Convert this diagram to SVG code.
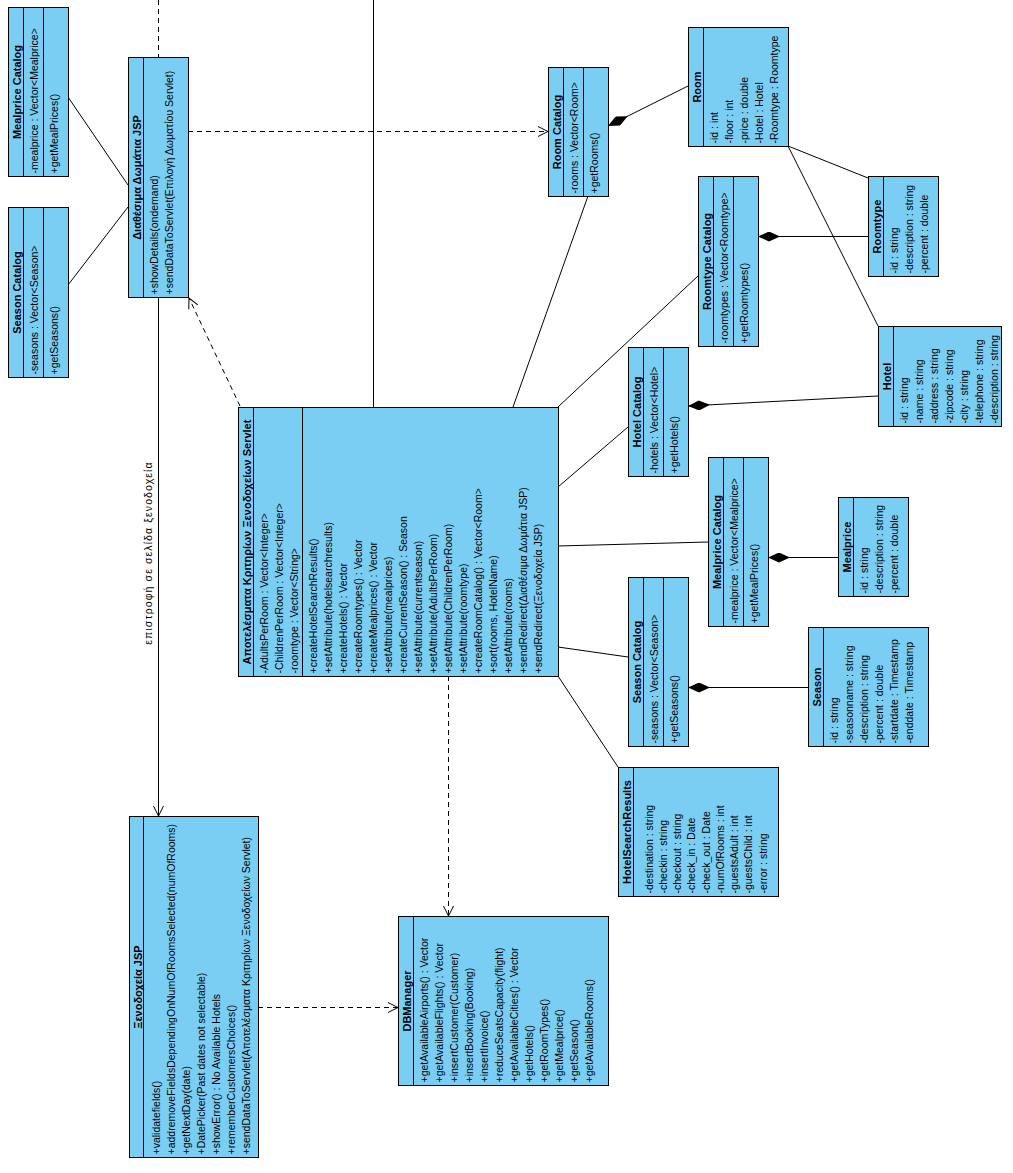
<svg xmlns="http://www.w3.org/2000/svg" width="1013" height="1173" viewBox="0 0 1013 1173">
<style>
.box{fill:#7acef4;stroke:#000;stroke-width:1}
.dv{stroke:#000;stroke-width:1}
.t{font-family:"Liberation Sans",Arial,sans-serif;font-size:11px;font-weight:bold;text-anchor:middle;fill:#000}
.m{font-family:"Liberation Sans",Arial,sans-serif;font-size:10.5px;fill:#000}
.lbl{font-family:"Liberation Sans",Arial,sans-serif;font-size:10.5px;letter-spacing:1.1px;fill:#000;text-anchor:middle}
.c{stroke:#000;fill:none;stroke-width:1}
.d{stroke-dasharray:5,4}
.arr{marker-end:url(#open)}
.dia{marker-start:url(#diamond)}
</style>
<defs>
<marker id="open" viewBox="0 0 12 12" refX="11" refY="6" markerWidth="12" markerHeight="12" markerUnits="userSpaceOnUse" orient="auto"><path d="M1,1 L11,6 L1,11" fill="none" stroke="#000" stroke-width="1" stroke-dasharray="none"/></marker>
<marker id="diamond" viewBox="0 0 22 10" refX="0" refY="5" markerWidth="22" markerHeight="10" markerUnits="userSpaceOnUse" orient="auto"><path d="M0,5 L11,0 L22,5 L11,10 Z" fill="#000"/></marker>
</defs>
<rect width="1013" height="1173" fill="#fff"/>
<g id="connectors">
<path class="c" d="M68,97 L128,185"/>
<path class="c" d="M68,285 L128,207"/>
<path class="c d" d="M158.5,0 L158.5,57"/>
<path class="c" d="M373.5,0 L373.5,407"/>
<path class="c d arr" d="M188,131.5 L548,131.5"/>
<path class="c d arr" d="M240,406 L189,298"/>
<path class="c arr" d="M158.5,297 L158.5,816"/>
<path class="c dia" d="M608,126 L688,86"/>
<path class="c" d="M788,146 L868,178"/>
<path class="c" d="M788,146 L878,326"/>
<path class="c dia" d="M758,236.5 L868,236.5"/>
<path class="c dia" d="M688,406 L878,396"/>
<path class="c dia" d="M768,557.5 L838,557.5"/>
<path class="c dia" d="M688,687.5 L808,687.5"/>
<path class="c" d="M513,407 L588,196"/>
<path class="c" d="M558,407 L698,276"/>
<path class="c" d="M558,487 L628,427"/>
<path class="c" d="M558,546 L708,542"/>
<path class="c" d="M558,647 L628,657"/>
<path class="c" d="M558,676 L618,767"/>
<path class="c d arr" d="M448.5,676 L448.5,916"/>
<path class="c d arr" d="M258,1007.5 L398,1007.5"/>
<text class="lbl" transform="translate(152,553) rotate(-90)">επιστροφή σε σελίδα ξενοδοχεία</text>
</g>
<g id="mealpriceCatalog1" transform="translate(8.5,176.5) rotate(-90)">
<rect class="box" width="169" height="60"/>
<line class="dv" x1="0" y1="15" x2="169" y2="15"/><line class="dv" x1="0" y1="35" x2="169" y2="35"/>
<text class="t" x="84.5" y="12">Mealprice Catalog</text>
<text class="m" x="3" y="29">-mealprice : Vector&lt;Mealprice&gt;</text>
<text class="m" x="3" y="49">+getMealPrices()</text>
</g>
<g id="seasonCatalog1" transform="translate(8.5,377.5) rotate(-90)">
<rect class="box" width="170" height="60"/>
<line class="dv" x1="0" y1="15" x2="170" y2="15"/><line class="dv" x1="0" y1="35" x2="170" y2="35"/>
<text class="t" x="85" y="12">Season Catalog</text>
<text class="m" x="3" y="29">-seasons : Vector&lt;Season&gt;</text>
<text class="m" x="3" y="49">+getSeasons()</text>
</g>
<g id="diathesimaJSP" transform="translate(128.5,297.5) rotate(-90)">
<rect class="box" width="240" height="60"/>
<line class="dv" x1="0" y1="15" x2="240" y2="15"/>
<text class="t" x="120" y="12">Διαθέσιμα Δωμάτια JSP</text>
<text class="m" x="3" y="29">+showDetails(ondemand)</text>
<text class="m" x="3" y="44">+sendDataToServlet(Επιλογή Δωματίου Servlet)</text>
</g>
<g id="roomCatalog" transform="translate(548.5,196.5) rotate(-90)">
<rect class="box" width="129" height="60"/>
<line class="dv" x1="0" y1="15" x2="129" y2="15"/><line class="dv" x1="0" y1="35" x2="129" y2="35"/>
<text class="t" x="64.5" y="12">Room Catalog</text>
<text class="m" x="3" y="29">-rooms : Vector&lt;Room&gt;</text>
<text class="m" x="3" y="49">+getRooms()</text>
</g>
<g id="room" transform="translate(688.5,146.5) rotate(-90)">
<rect class="box" width="119" height="100"/>
<line class="dv" x1="0" y1="15" x2="119" y2="15"/>
<text class="t" x="59.5" y="12">Room</text>
<text class="m" x="3" y="29">-id : int</text>
<text class="m" x="3" y="44">-floor : int</text>
<text class="m" x="3" y="59">-price : double</text>
<text class="m" x="3" y="74">-Hotel : Hotel</text>
<text class="m" x="3" y="89">-Roomtype : Roomtype</text>
</g>
<g id="roomtypeCatalog" transform="translate(698.5,346.5) rotate(-90)">
<rect class="box" width="170" height="60"/>
<line class="dv" x1="0" y1="15" x2="170" y2="15"/><line class="dv" x1="0" y1="35" x2="170" y2="35"/>
<text class="t" x="85" y="12">Roomtype Catalog</text>
<text class="m" x="3" y="29">-roomtypes : Vector&lt;Roomtype&gt;</text>
<text class="m" x="3" y="49">+getRoomtypes()</text>
</g>
<g id="roomtype" transform="translate(868.5,276.5) rotate(-90)">
<rect class="box" width="100" height="70"/>
<line class="dv" x1="0" y1="15" x2="100" y2="15"/>
<text class="t" x="50" y="12">Roomtype</text>
<text class="m" x="3" y="29">-id : string</text>
<text class="m" x="3" y="44">-description : string</text>
<text class="m" x="3" y="59">-percent : double</text>
</g>
<g id="hotel" transform="translate(878.5,426.5) rotate(-90)">
<rect class="box" width="100" height="123"/>
<line class="dv" x1="0" y1="15" x2="100" y2="15"/>
<text class="t" x="50" y="12">Hotel</text>
<text class="m" x="3" y="29">-id : string</text>
<text class="m" x="3" y="44">-name : string</text>
<text class="m" x="3" y="59">-address : string</text>
<text class="m" x="3" y="74">-zipcode : string</text>
<text class="m" x="3" y="89">-city : string</text>
<text class="m" x="3" y="104">-telephone : string</text>
<text class="m" x="3" y="119">-description : string</text>
</g>
<g id="hotelCatalog" transform="translate(628.5,476.5) rotate(-90)">
<rect class="box" width="129" height="60"/>
<line class="dv" x1="0" y1="15" x2="129" y2="15"/><line class="dv" x1="0" y1="35" x2="129" y2="35"/>
<text class="t" x="64.5" y="12">Hotel Catalog</text>
<text class="m" x="3" y="29">-hotels : Vector&lt;Hotel&gt;</text>
<text class="m" x="3" y="49">+getHotels()</text>
</g>
<g id="mealpriceCatalog2" transform="translate(708.5,626.5) rotate(-90)">
<rect class="box" width="169" height="60"/>
<line class="dv" x1="0" y1="15" x2="169" y2="15"/><line class="dv" x1="0" y1="35" x2="169" y2="35"/>
<text class="t" x="84.5" y="12">Mealprice Catalog</text>
<text class="m" x="3" y="29">-mealprice : Vector&lt;Mealprice&gt;</text>
<text class="m" x="3" y="49">+getMealPrices()</text>
</g>
<g id="mealprice" transform="translate(838.5,596.5) rotate(-90)">
<rect class="box" width="99" height="70"/>
<line class="dv" x1="0" y1="15" x2="99" y2="15"/>
<text class="t" x="49.5" y="12">Mealprice</text>
<text class="m" x="3" y="29">-id : string</text>
<text class="m" x="3" y="44">-description : string</text>
<text class="m" x="3" y="59">-percent : double</text>
</g>
<g id="seasonCatalog2" transform="translate(628.5,746.5) rotate(-90)">
<rect class="box" width="169" height="60"/>
<line class="dv" x1="0" y1="15" x2="169" y2="15"/><line class="dv" x1="0" y1="35" x2="169" y2="35"/>
<text class="t" x="84.5" y="12">Season Catalog</text>
<text class="m" x="3" y="29">-seasons : Vector&lt;Season&gt;</text>
<text class="m" x="3" y="49">+getSeasons()</text>
</g>
<g id="season" transform="translate(808.5,746.5) rotate(-90)">
<rect class="box" width="119" height="120"/>
<line class="dv" x1="0" y1="15" x2="119" y2="15"/>
<text class="t" x="59.5" y="12">Season</text>
<text class="m" x="3" y="29">-id : string</text>
<text class="m" x="3" y="44">-seasonname : string</text>
<text class="m" x="3" y="59">-description : string</text>
<text class="m" x="3" y="74">-percent : double</text>
<text class="m" x="3" y="89">-startdate : Timestamp</text>
<text class="m" x="3" y="104">-enddate : Timestamp</text>
</g>
<g id="hotelSearchResults" transform="translate(618.5,896.5) rotate(-90)">
<rect class="box" width="129" height="160"/>
<line class="dv" x1="0" y1="15" x2="129" y2="15"/>
<text class="t" x="64.5" y="12">HotelSearchResults</text>
<text class="m" x="3" y="34">-destination : string</text>
<text class="m" x="3" y="48.2">-checkin : string</text>
<text class="m" x="3" y="62.5">-checkout : string</text>
<text class="m" x="3" y="76.7">-check_in : Date</text>
<text class="m" x="3" y="91">-check_out : Date</text>
<text class="m" x="3" y="105.2">-numOfRooms : int</text>
<text class="m" x="3" y="119.5">-guestsAdult : int</text>
<text class="m" x="3" y="133.7">-guestsChild : int</text>
<text class="m" x="3" y="148">-error : string</text>
</g>
<g id="servlet" transform="translate(238.5,676.5) rotate(-90)">
<rect class="box" width="269" height="320"/>
<line class="dv" x1="0" y1="15" x2="269" y2="15"/><line class="dv" x1="0" y1="64" x2="269" y2="64"/>
<text class="t" x="134.5" y="12">Αποτελέσματα Κριτηρίων Ξενοδοχείων Servlet</text>
<text class="m" x="3" y="29">-AdultsPerRoom : Vector&lt;Integer&gt;</text>
<text class="m" x="3" y="44">-ChildrenPerRoom : Vector&lt;Integer&gt;</text>
<text class="m" x="3" y="59">-roomtype : Vector&lt;String&gt;</text>
<text class="m" x="3" y="78">+createHotelSearchResults()</text>
<text class="m" x="3" y="93">+setAttribute(hotelsearchresults)</text>
<text class="m" x="3" y="108">+createHotels() : Vector</text>
<text class="m" x="3" y="123">+createRoomtypes() : Vector</text>
<text class="m" x="3" y="138">+createMealprices() : Vector</text>
<text class="m" x="3" y="153">+setAttribute(mealprices)</text>
<text class="m" x="3" y="168">+createCurrentSeason() : Season</text>
<text class="m" x="3" y="183">+setAttribute(currentseason)</text>
<text class="m" x="3" y="198">+setAttribute(AdultsPerRoom)</text>
<text class="m" x="3" y="213">+setAttribute(ChildrenPerRoom)</text>
<text class="m" x="3" y="228">+setAttribute(roomtype)</text>
<text class="m" x="3" y="243">+createRoomCatalog() : Vector&lt;Room&gt;</text>
<text class="m" x="3" y="258">+sort(rooms, HotelName)</text>
<text class="m" x="3" y="273">+setAttribute(rooms)</text>
<text class="m" x="3" y="288">+sendRedirect(Διαθέσιμα Δωμάτια JSP)</text>
<text class="m" x="3" y="303">+sendRedirect(Ξενοδοχεία JSP)</text>
</g>
<g id="xenodocheiaJSP" transform="translate(129.5,1157.5) rotate(-90)">
<rect class="box" width="341" height="129"/>
<line class="dv" x1="0" y1="14" x2="341" y2="14"/>
<text class="t" x="170.5" y="12">Ξενοδοχεία JSP</text>
<text class="m" x="3" y="30">+validatefields()</text>
<text class="m" x="3" y="45">+addremoveFieldsDependingOnNumOfRoomsSelected(numOfRooms)</text>
<text class="m" x="3" y="60">+getNextDay(date)</text>
<text class="m" x="3" y="75">+DatePicker(Past dates not selectable)</text>
<text class="m" x="3" y="90">+showError() : No Available Hotels</text>
<text class="m" x="3" y="105">+rememberCustomersChoices()</text>
<text class="m" x="3" y="120">+sendDataToServlet(Αποτελέσματα Κριτηρίων Ξενοδοχείων Servlet)</text>
</g>
<g id="dbManager" transform="translate(398.5,1085.5) rotate(-90)">
<rect class="box" width="169" height="210"/>
<line class="dv" x1="0" y1="15" x2="169" y2="15"/>
<text class="t" x="84.5" y="12">DBManager</text>
<text class="m" x="3" y="29">+getAvailableAirports() : Vector</text>
<text class="m" x="3" y="44">+getAvailableFlights() : Vector</text>
<text class="m" x="3" y="59">+insertCustomer(Customer)</text>
<text class="m" x="3" y="74">+insertBooking(Booking)</text>
<text class="m" x="3" y="89">+insertInvoice()</text>
<text class="m" x="3" y="104">+reduceSeatsCapacity(flight)</text>
<text class="m" x="3" y="119">+getAvailableCities() : Vector</text>
<text class="m" x="3" y="134">+getHotels()</text>
<text class="m" x="3" y="149">+getRoomTypes()</text>
<text class="m" x="3" y="164">+getMealprice()</text>
<text class="m" x="3" y="179">+getSeason()</text>
<text class="m" x="3" y="194">+getAvailableRooms()</text>
</g>
</svg>
